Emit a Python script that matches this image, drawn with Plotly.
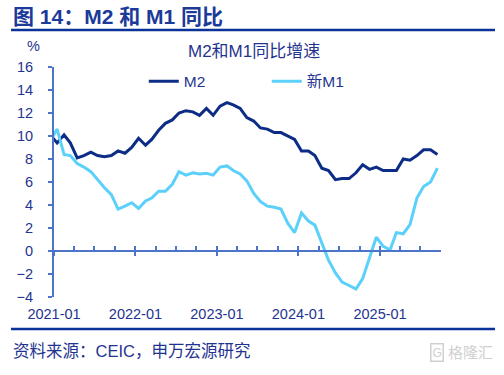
import pandas as pd
import plotly.graph_objects as go

# ---- data ----
months = pd.period_range("2020-12", "2025-09", freq="M").strftime("%Y-%m").tolist()
m2 = [10.1,
      9.4, 10.1, 9.4, 8.1, 8.3, 8.6, 8.3, 8.2, 8.3, 8.7, 8.5, 9.0,
      9.8, 9.2, 9.7, 10.5, 11.1, 11.4, 12.0, 12.2, 12.1, 11.8, 12.4, 11.8,
      12.6, 12.9, 12.7, 12.4, 11.6, 11.3, 10.7, 10.6, 10.3, 10.3, 10.0, 9.7,
      8.7, 8.7, 8.3, 7.2, 7.0, 6.2, 6.3, 6.3, 6.8, 7.5, 7.1, 7.3,
      7.0, 7.0, 7.0, 8.0, 7.9, 8.3, 8.8, 8.8, 8.4]
m1_new = [9.6,
          10.6, 8.4, 8.3, 7.6, 7.3, 6.9, 6.2, 5.5, 4.9, 3.65, 3.9, 4.2,
          3.7, 4.35, 4.6, 5.2, 5.2, 5.8, 6.9, 6.6, 6.8, 6.7, 6.75, 6.6,
          7.3, 7.4, 7.0, 6.7, 6.1, 5.0, 4.3, 3.9, 3.8, 3.65, 2.4, 1.6,
          3.3, 2.6, 2.25, 0.7, -0.8, -1.9, -2.7, -3.0, -3.3, -2.4, -0.6, 1.2,
          0.4, 0.1, 1.6, 1.5, 2.3, 4.6, 5.6, 6.0, 7.2]
tick_labels = ["2021-01", "2022-01", "2023-01", "2024-01", "2025-01"]
y_ticks = list(range(-4, 17, 2))

x = pd.to_datetime(months) + pd.Timedelta(days=14)
tickvals = pd.to_datetime(tick_labels)

NAVY = "#0C2C86"
SKY = "#5BD0FA"
AXIS = "#4C74C8"
TXT = "#1F3490"
FONT = "Arial, 'Liberation Sans', 'Noto Sans CJK SC', sans-serif"
xr = ["2021-01-01", "2025-10-01"]
yr = [-4, 16]

ML, MR, MT, MB = 54, 63, 67, 78
W, H = 504, 375
pw, ph = W - ML - MR, H - MT - MB
def px_x(p): return (p - ML) / pw
def px_y(p): return (H - MB - p) / ph

fig = go.Figure()
fig.add_trace(go.Scatter(x=x, y=m2, name="M2", mode="lines",
                         line=dict(color=NAVY, width=3)))
fig.add_trace(go.Scatter(x=x, y=m1_new, name="新M1", mode="lines",
                         line=dict(color=SKY, width=3)))
# dummy traces to activate overlay axes
fig.add_trace(go.Scatter(x=[], y=[], xaxis="x2", showlegend=False, hoverinfo="skip"))
fig.add_trace(go.Scatter(x=[], y=[], xaxis="x3", showlegend=False, hoverinfo="skip"))

zero_pos = (0 - yr[0]) / (yr[1] - yr[0])

fig.update_layout(
    width=W, height=H,
    margin=dict(l=ML, r=MR, t=MT, b=MB),
    paper_bgcolor="white", plot_bgcolor="white",
    font=dict(family=FONT, color=TXT, size=14.5),
    showlegend=True,
    legend=dict(orientation="h", x=0.232, xanchor="left", y=0.936, yanchor="middle",
                font=dict(size=15.5, color=TXT), entrywidth=78, bgcolor="rgba(0,0,0,0)"),
    xaxis=dict(type="date", range=xr, tickvals=tickvals, ticktext=tick_labels,
               showline=False, ticks="", showgrid=False, zeroline=False,
               tickfont=dict(size=14.5, color=TXT), ticklabelstandoff=6),
    xaxis2=dict(type="date", overlaying="x", matches="x", range=xr, anchor="free",
                position=zero_pos, showline=True, linecolor=AXIS, linewidth=2,
                ticks="inside", tick0="2021-01-01", dtick="M3", ticklen=4, tickwidth=1.5,
                tickcolor=AXIS, showticklabels=False, showgrid=False, zeroline=False),
    xaxis3=dict(type="date", overlaying="x", matches="x", range=xr, anchor="free",
                position=zero_pos, showline=False, ticks="outside", tick0="2021-01-01",
                dtick="M12", ticklen=4, tickwidth=1.5, tickcolor=AXIS,
                showticklabels=False, showgrid=False, zeroline=False),
    yaxis=dict(range=yr, tickvals=y_ticks, showline=True, linecolor=AXIS, linewidth=2,
               ticks="outside", ticklen=4, tickwidth=1.5, tickcolor=AXIS,
               showgrid=False, zeroline=False, tickfont=dict(size=14.5, color=TXT),
               ticklabelstandoff=12),
)

def note(text, px, py, anchor="left", size=14.5, color=TXT, **kw):
    fig.add_annotation(text=text, xref="paper", yref="paper", x=px_x(px), y=px_y(py),
                       xanchor=anchor, yanchor="middle", showarrow=False,
                       font=dict(size=size, color=color, family=FONT), **kw)

note("<b>图 14：M2 和 M1 同比</b>", 11, 17, size=21, color="#1B3A9A")
note("M2和M1同比增速", 254, 51.5, anchor="center", size=17)
note("%", 33, 46, anchor="center")
note("资料来源：CEIC，申万宏源研究", 11, 351, size=16.5)
note("格隆汇", 495, 352, anchor="right", size=15, color="#D0D0D0")
note("G", 437, 352, anchor="center", size=12, color="#D0D0D0",
     bordercolor="#D0D0D0", borderwidth=1.5, borderpad=1)

for yy in (30, 329):
    fig.add_shape(type="line", xref="paper", yref="paper",
                  x0=px_x(11), x1=px_x(495), y0=px_y(yy), y1=px_y(yy),
                  line=dict(color="#0A3299", width=2.5))

fig.write_html("out.html", config={"displayModeBar": False},
               post_script="document.body.style.margin='0';document.body.style.padding='0';")
